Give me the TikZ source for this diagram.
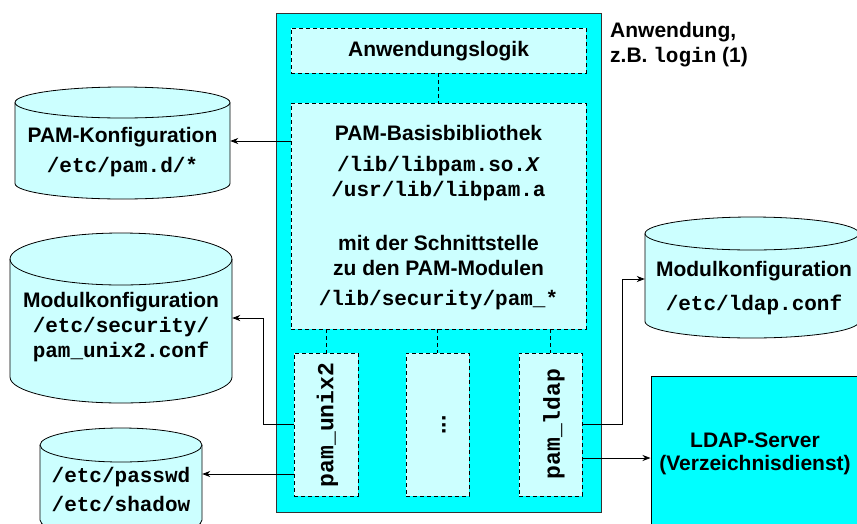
\documentclass[tikz,border=0pt]{standalone}
\usepackage{fontspec}
\setmainfont{Liberation Sans}
\newfontfamily\monofnt{Liberation Mono}
\usetikzlibrary{arrows.meta}
\definecolor{cyanA}{RGB}{0,255,255}
\definecolor{cyanL}{RGB}{204,255,255}
\newcommand\drawcyl[6]{% l r t b ry rx
  \filldraw[cylbody] (#1,#3+#5) -- (#1,#4-#5) arc[start angle=180,end angle=360,x radius=#6pt,y radius=#5pt] -- (#2,#3+#5) arc[start angle=0,end angle=180,x radius=#6pt,y radius=#5pt] -- cycle;
  \draw[cylbody,fill=none] (#1,#3+#5) arc[start angle=180,end angle=360,x radius=#6pt,y radius=#5pt];}
\begin{document}
\begin{tikzpicture}[x=1pt,y=-1pt,
  cylbody/.style={draw=black,fill=cyanL,line width=0.8pt},
  mainbox/.style={draw=black!80,fill=cyanA,line width=1pt,inner sep=0pt},
  dbox/.style={draw=black,fill=cyanL,dashed,dash pattern=on 4pt off 3pt,line width=0.8pt,inner sep=0pt},
  dline/.style={draw=black,dash pattern=on 4pt off 3pt,line width=0.8pt},
  conn/.style={draw=black,line width=0.8pt},
  arr/.style={conn,-{Stealth[length=8pt,width=6pt,inset=2.5pt]}},
  blank/.style={inner sep=0pt,draw=none},
  sf/.style={font=\fontsize{21}{25}\selectfont\bfseries,inner sep=0pt},
  tt/.style={font=\fontsize{21}{25}\selectfont\monofnt\bfseries,inner sep=0pt},
  ttr/.style={font=\fontsize{23}{27}\selectfont\monofnt\bfseries,inner sep=0pt,rotate=90},
]
\useasboundingbox (0,0) rectangle (857,523);
\clip (0,0) rectangle (857,523);

% main application box
\node[mainbox,minimum width=325pt,minimum height=499pt] (main) at (438.5,262.5) {};
\node[dbox,minimum width=295pt,minimum height=45pt] (appl) at (438.5,50.5) {};
\node[dbox,minimum width=295pt,minimum height=226pt] (pambase) at (438.5,216) {};
\node[dbox,minimum width=64pt,minimum height=143pt] (unix) at (326,424.5) {};
\node[dbox,minimum width=63pt,minimum height=143pt] (dots) at (437.5,424.5) {};
\node[dbox,minimum width=63pt,minimum height=143pt] (ldap) at (550.5,424.5) {};

\draw[dline] (appl.south) -- (pambase.north);
\draw[dline] (unix.north |- pambase.south) -- (unix.north);
\draw[dline] (dots.north |- pambase.south) -- (dots.north);
\draw[dline] (ldap.north |- pambase.south) -- (ldap.north);

\node[sf] (applT) at (438.5,51) {Anwendungslogik};
\node[sf] (pbT1) at (438.5,133) {PAM-Basisbibliothek};
\node[tt] (pbT2) at (438.5,166) {/lib/libpam.so.\textit{X}};
\node[tt] (pbT3) at (438.5,191) {/usr/lib/libpam.a};
\node[sf] (pbT4) at (438.5,243) {mit der Schnittstelle};
\node[sf] (pbT5) at (438.5,268) {zu den PAM-Modulen};
\node[tt] (pbT6) at (438.5,300) {/lib/security/pam\_*};
\node[ttr] (unixT) at (327.5,425) {pam\_unix2};
\node[sf,rotate=90,font=\fontsize{23}{27}\selectfont\bfseries] (dotsT) at (444,425) {...};
\node[ttr] (ldapT) at (554,424) {pam\_ldap};

\node[sf,anchor=west] (anw1) at (610,32) {Anwendung,};
\node[sf,anchor=west] (anw2) at (610,57) {z.B. {\monofnt login} (1)};

% cylinders
\drawcyl{15}{230}{87}{199}{15.5}{107.5}
\node[blank,minimum width=215pt,minimum height=112pt] (pamconf) at (122.5,143) {};
\node[sf] (pcT1) at (122.5,137) {PAM-Konfiguration};
\node[tt] (pcT2) at (122.5,167) {/etc/pam.d/*};

\drawcyl{10}{232}{233}{403}{26}{111}
\node[blank,minimum width=222pt,minimum height=170pt] (modconf) at (121,318) {};
\node[sf] (mcT1) at (121,302) {Modulkonfiguration};
\node[tt] (mcT2) at (121,327) {/etc/security/};
\node[tt] (mcT3) at (121,352) {pam\_unix2.conf};

\drawcyl{40}{202}{428}{537}{17}{81}
\node[blank,minimum width=162pt,minimum height=109pt] (passwd) at (121,482.5) {};
\node[tt] (pwT1) at (121,477) {/etc/passwd};
\node[tt] (pwT2) at (121,504) {/etc/shadow};

\drawcyl{645}{859}{217}{338}{16.5}{107}
\node[blank,minimum width=214pt,minimum height=121pt] (ldapconf) at (752,277.5) {};
\node[sf] (lcT1) at (754,271) {Modulkonfiguration};
\node[tt] (lcT2) at (754,305) {/etc/ldap.conf};

% LDAP server
\node[mainbox,draw=black,minimum width=219pt,minimum height=164pt] (server) at (760.5,458) {};
\node[sf] (srvT1) at (755,440) {LDAP-Server};
\node[sf] (srvT2) at (755,465) {(Verzeichnisdienst)};

% connectors
\coordinate (y1) at (0,141);
\coordinate (y2) at (0,424);
\coordinate (y2b) at (0,318);
\coordinate (y3) at (0,474);
\coordinate (y4) at (0,279);
\coordinate (y5) at (0,458);
\coordinate (k1) at (263,424);
\coordinate (k2) at (622,424);
\draw[arr] (y1 -| pambase.west) -- (y1 -| pamconf.east);
\draw[arr] (y2 -| unix.west) -- (k1) |- (y2b -| modconf.east);
\draw[arr] (y3 -| unix.west) -- (y3 -| passwd.east);
\draw[arr] (y2 -| ldap.east) -- (k2) |- (y4 -| ldapconf.west);
\draw[arr] (y5 -| ldap.east) -- (y5 -| server.west);
\end{tikzpicture}
\end{document}
